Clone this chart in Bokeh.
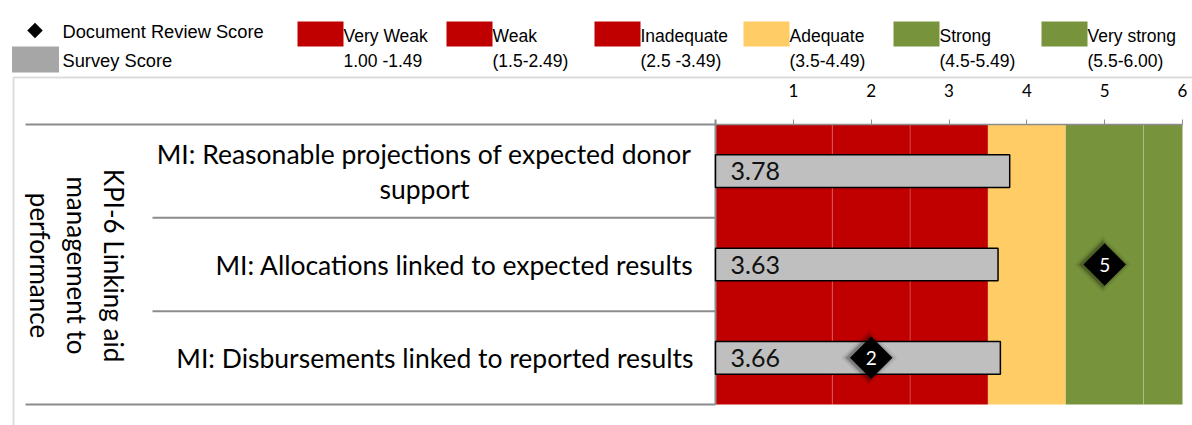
import math
from bokeh.plotting import figure
from bokeh.models import Range1d, FixedTicker, Label, BoxAnnotation, ColumnDataSource, LinearAxis
from bokeh.core.properties import value
from bokeh.embed import file_html
from bokeh.resources import INLINE

# ---------------- data ----------------
categories = [
    "MI: Reasonable projections of expected donor\nsupport",
    "MI: Allocations linked to expected results",
    "MI: Disbursements linked to reported results",
]
survey_scores = [3.78, 3.63, 3.66]
doc_scores = [None, 5, 2]
group_label = ["KPI-6 Linking aid", "management to", "performance"]

band_names = ["Very Weak", "Weak", "Inadequate", "Adequate", "Strong", "Very strong"]
band_ranges = ["1.00 -1.49", "(1.5-2.49)", "(2.5 -3.49)", "(3.5-4.49)", "(4.5-5.49)", "(5.5-6.00)"]
band_lo = [0, 1.5, 2.5, 3.5, 4.5, 5.5]
band_hi = [1.5, 2.5, 3.5, 4.5, 5.5, 6.0]
band_colors = ["#C00000", "#C00000", "#C00000", "#FFCC66", "#77933C", "#77933C"]
x_ticks = [1, 2, 3, 4, 5, 6]
x_max = 6

# ---------------- layout helpers (pixel -> data) ----------------
W, H = 1192, 425
N = len(categories)
X0, X1 = 715, 1182      # pixel span of 0..x_max
Y0, Y1 = 124, 404       # pixel span of the category rows
PXX, PXY = (X1 - X0) / float(x_max), (Y1 - Y0) / float(N)


def dx(xr):
    return (xr - X0) / PXX


def dy(yr):
    return N - (yr - Y0) / PXY


CAL = "Lato"
ARI = "Liberation Sans"
GRID = "#8c8c8c"
CAT_FS = "26.5px"

p = figure(width=W, height=H, output_backend="svg", toolbar_location=None,
           x_range=Range1d(dx(0), dx(W)), y_range=Range1d(dy(H), dy(0)),
           x_axis_location=None, y_axis_location=None, min_border=0)
p.outline_line_color = None
p.xgrid.grid_line_color = None
p.ygrid.grid_line_color = None
p.background_fill_color = "white"
p.border_fill_color = "white"

# chart-area border
p.add_layout(BoxAnnotation(left=dx(13), right=dx(W + 50), top=dy(77), bottom=dy(H + 50),
                           fill_color=None, fill_alpha=0, line_color=GRID, line_width=2))

# bands
p.quad(left=band_lo, right=band_hi, bottom=0, top=N, fill_color=band_colors, line_color=None)
inner = [b for b in band_lo[1:] if b not in (3.5, 4.5)]
p.segment(x0=inner, x1=inner, y0=[0] * len(inner), y1=[N] * len(inner),
          line_color="white", line_alpha=0.22, line_width=1)

# category separators + left axis line
sep_y = list(range(N + 1))
sep_x0 = [dx(25) if (k == 0 or k == N) else dx(152) for k in sep_y]
p.segment(x0=sep_x0, x1=[0] * len(sep_y), y0=sep_y, y1=sep_y, line_color=GRID, line_width=2)
p.segment(x0=[0], x1=[0], y0=[0], y1=[dy(Y0 - 5)], line_color=GRID, line_width=2)

# bars
ys = [N - i - 0.5 for i in range(N)]
src = ColumnDataSource(dict(y=ys, v=survey_scores, t=["%.2f" % s for s in survey_scores]))
p.hbar(y="y", left=0, right="v", height=0.35, source=src,
       fill_color="#BFBFBF", line_color="black", line_width=1.5)
p.text(x=0, y="y", text="t", source=src, x_offset=15, text_align="left", text_baseline="middle",
       text_font=value(CAL), text_font_size="25px", text_color="#111111")

# document review diamonds
dxs = [d for d in doc_scores if d is not None]
dys = [ys[i] for i, d in enumerate(doc_scores) if d is not None]
dsrc = ColumnDataSource(dict(x=dxs, xs=[d - 2.0 / PXX for d in dxs], y=dys, t=[str(d) for d in dxs]))
for s, a in ((40, 0.06), (36, 0.12), (33, 0.2)):
    p.scatter(x="xs", y="y", source=dsrc, marker="square", angle=math.pi / 4, size=s,
              fill_color="black", fill_alpha=a, line_color=None)
p.scatter(x="x", y="y", source=dsrc, marker="square", angle=math.pi / 4, size=30,
          fill_color="black", line_color=None)
p.text(x="x", y="y", text="t", source=dsrc, text_align="center", text_baseline="middle",
       text_font=value(CAL), text_font_size="19px", text_color="white")

# top axis, fixed at the top of the category rows
xa = LinearAxis(fixed_location=N, bounds=(0, x_max), ticker=FixedTicker(ticks=x_ticks))
xa.major_tick_out = 5
xa.major_tick_in = 0
xa.minor_tick_out = 0
xa.minor_tick_in = 0
xa.major_tick_line_color = GRID
xa.axis_line_color = GRID
xa.axis_line_width = 1.5
xa.major_label_standoff = 23
xa.major_label_text_font = CAL
xa.major_label_text_font_size = "17px"
xa.major_label_text_color = "black"
p.add_layout(xa, "above")

# category labels
for i, c in enumerate(categories):
    lines = c.split("\n")
    if len(lines) == 1:
        p.add_layout(Label(x=dx(693), y=ys[i], text=lines[0], text_align="right", text_baseline="middle",
                           text_font=CAL, text_font_size=CAT_FS, text_color="black"))
    else:
        p.add_layout(Label(x=dx(691), y=dy(153), text=lines[0], text_align="right", text_baseline="middle",
                           text_font=CAL, text_font_size=CAT_FS, text_color="black"))
        p.add_layout(Label(x=dx(424), y=dy(188), text=lines[1], text_align="center", text_baseline="middle",
                           text_font=CAL, text_font_size=CAT_FS, text_color="black"))

# rotated group label
for xr, t in zip([113, 76, 39], group_label):
    p.add_layout(Label(x=dx(xr), y=dy(265), text=t, angle=-math.pi / 2, text_align="center",
                       text_baseline="middle", text_font=CAL, text_font_size="26px", text_color="black"))

# legend
p.scatter(x=[dx(34.5)], y=[dy(30)], marker="square", angle=math.pi / 4, size=11,
          fill_color="black", line_color=None)
p.add_layout(Label(x=dx(62), y=dy(31), text="Document Review Score", text_align="left",
                   text_baseline="middle", text_font=ARI, text_font_size="18.3px", text_color="black"))
p.add_layout(BoxAnnotation(left=dx(11.5), right=dx(58.5), top=dy(46), bottom=dy(72),
                           fill_color="#A6A6A6", fill_alpha=1, line_color=None))
p.add_layout(Label(x=dx(62), y=dy(60), text="Survey Score", text_align="left",
                   text_baseline="middle", text_font=ARI, text_font_size="18.3px", text_color="black"))
sw_left = [297, 446, 594, 743, 893, 1041]
for xl, nm, rg, col in zip(sw_left, band_names, band_ranges, band_colors):
    p.add_layout(BoxAnnotation(left=dx(xl), right=dx(xl + 46), top=dy(21), bottom=dy(46),
                               fill_color=col, fill_alpha=1, line_color=None))
    p.add_layout(Label(x=dx(xl + 46), y=dy(35), text=nm, text_align="left", text_baseline="middle",
                       text_font=ARI, text_font_size="17.5px", text_color="black"))
    p.add_layout(Label(x=dx(xl + 46), y=dy(60), text=rg, text_align="left", text_baseline="middle",
                       text_font=ARI, text_font_size="17.5px", text_color="black"))

open("out.html", "w").write(file_html(p, INLINE))
